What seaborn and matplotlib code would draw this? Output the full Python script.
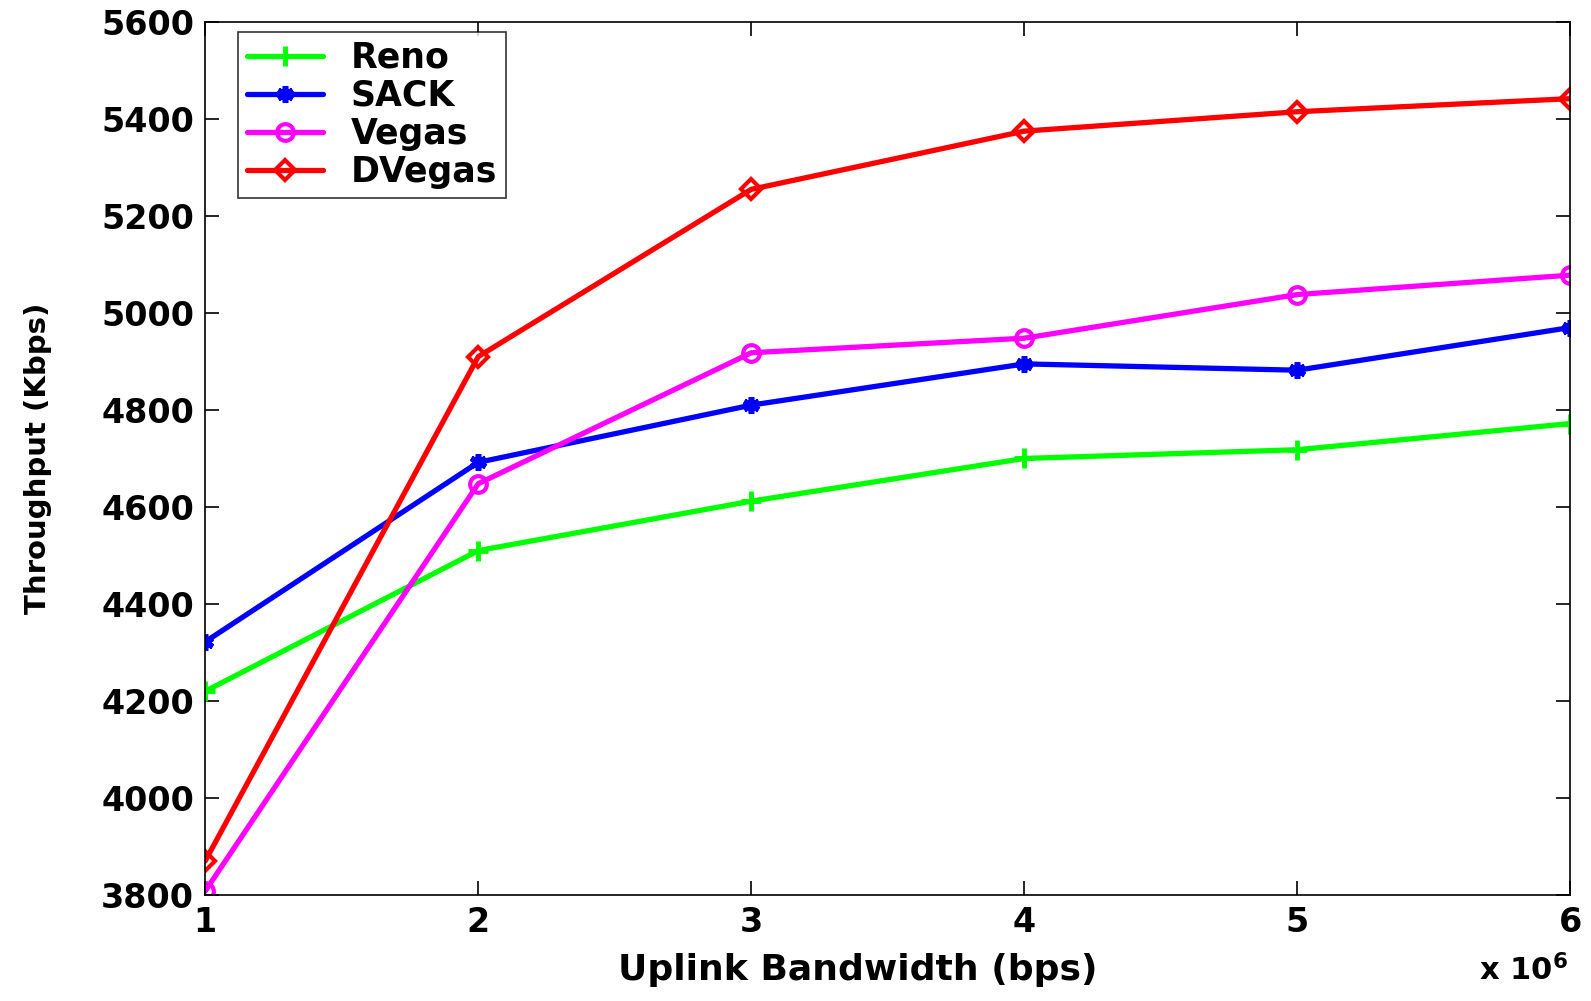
import pandas as pd
import matplotlib
matplotlib.use('Agg')
import matplotlib.pyplot as plt
import seaborn as sns
from matplotlib.ticker import FuncFormatter

# uplink bandwidth (bps) and throughput (Kbps) per TCP variant
bandwidth = [1e6, 2e6, 3e6, 4e6, 5e6, 6e6]
reno = [4220, 4510, 4612, 4700, 4718, 4772]
sack = [4322, 4692, 4810, 4895, 4882, 4970]
vegas = [3808, 4648, 4918, 4948, 5038, 5078]
dvegas = [3870, 4910, 5255, 5375, 5415, 5442]

series = {'Reno': reno, 'SACK': sack, 'Vegas': vegas, 'DVegas': dvegas}
styles = {
    'Reno': dict(color='#00ff00', marker='+', mfc='#00ff00', ms=14, mew=3.5),
    'SACK': dict(color='#0000ff', marker=(6, 2, 0), mfc='#0000ff', ms=12, mew=4),
    'Vegas': dict(color='#ff00ff', marker='o', mfc='none', ms=12, mew=3),
    'DVegas': dict(color='#ff0000', marker='D', mfc='none', ms=10, mew=3),
}

sns.set_style('ticks')
plt.rcParams['font.family'] = ['DejaVu Sans']
plt.rcParams['font.weight'] = 'bold'
plt.rcParams['text.color'] = 'black'
plt.rcParams['axes.labelcolor'] = 'black'
plt.rcParams['xtick.color'] = 'black'
plt.rcParams['ytick.color'] = 'black'
plt.rcParams['axes.edgecolor'] = 'black'
plt.rcParams['mathtext.default'] = 'bf'

fig = plt.figure(figsize=(15.91, 10.01), dpi=100)
ax = fig.add_axes([0.129, 0.106, 0.858, 0.872])

for name, vals in series.items():
    df = pd.DataFrame({'Bandwidth': bandwidth, 'Throughput': vals})
    st = styles[name]
    sns.lineplot(data=df, x='Bandwidth', y='Throughput', ax=ax, label=name,
                 color=st['color'], marker=st['marker'], markerfacecolor=st['mfc'],
                 markeredgecolor=st['color'], markersize=st['ms'],
                 markeredgewidth=st['mew'], linewidth=3.8)

ax.set_xlim(1e6, 6e6)
ax.set_ylim(3800, 5600)
ax.set_yticks(range(3800, 5601, 200))
ax.set_xticks(bandwidth)
ax.xaxis.set_major_formatter(FuncFormatter(lambda v, p: f'{v / 1e6:g}'))

for side in ['top', 'right', 'left', 'bottom']:
    ax.spines[side].set_visible(True)
    ax.spines[side].set_linewidth(1.2)
ax.tick_params(direction='in', length=10, width=1.2, top=True, right=True,
               labelsize=24, pad=8)
for lab in ax.get_xticklabels() + ax.get_yticklabels():
    lab.set_fontweight('bold')

ax.set_xlabel('Uplink Bandwidth (bps)', fontsize=26, fontweight='bold', va='top')
ax.set_ylabel('Throughput (Kbps)', fontsize=21, fontweight='bold')
ax.xaxis.set_label_coords(0.478, -0.066)
ax.yaxis.set_label_coords(-0.112, 0.5)
ax.text(0.998, -0.068, r'x 10$^{6}$', transform=ax.transAxes, ha='right', va='top',
        fontsize=22, fontweight='bold')

leg = ax.legend(loc='upper left', bbox_to_anchor=(0.024, 0.9885), borderaxespad=0,
                fontsize=25, frameon=True, fancybox=False, edgecolor='black',
                handlelength=2.2, borderpad=0.25, labelspacing=0.12, handletextpad=0.8)
leg.get_frame().set_linewidth(1.2)
for t in leg.get_texts():
    t.set_fontweight('bold')

fig.savefig('out.png', dpi=100)
